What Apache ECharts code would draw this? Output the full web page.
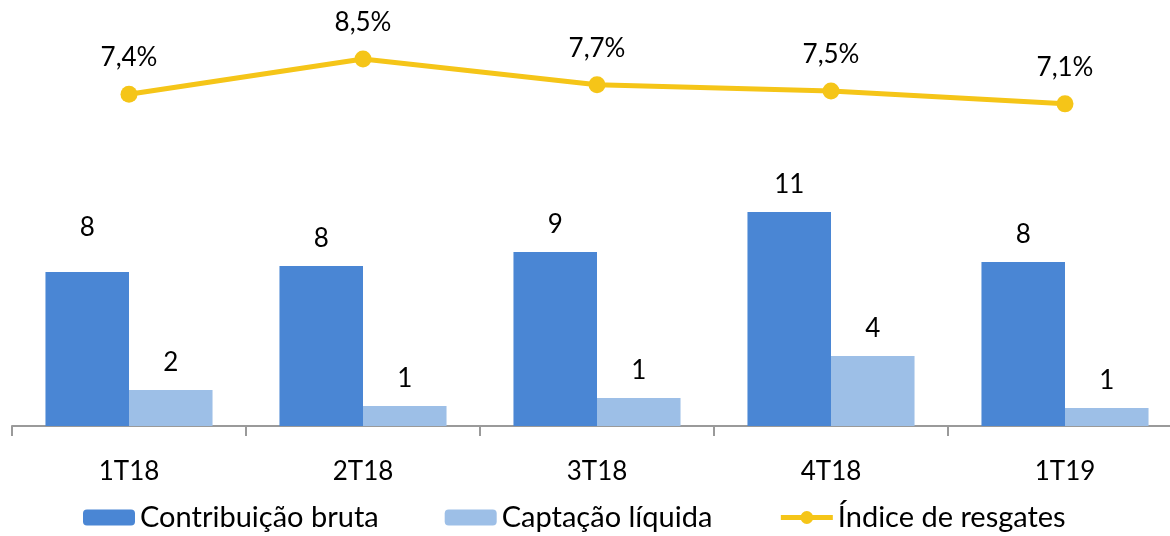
<!DOCTYPE html>
<html><head><meta charset="utf-8">
<script src="https://cdn.jsdelivr.net/npm/echarts@6/dist/echarts.min.js"></script>
<style>html,body{margin:0;padding:0;background:#fff;overflow:hidden}#c{width:1170px;height:536px}</style>
</head><body><div id="c"></div>
<script>
const categories = ['1T18', '2T18', '3T18', '4T18', '1T19'];
const contribuicaoBruta = [7.92, 8.23, 8.95, 11.0, 8.43];
const captacaoLiquida = [1.85, 1.03, 1.44, 3.6, 0.93];
const indiceResgates = [7.4, 8.5, 7.7, 7.5, 7.1];
const seriesNames = ['Contribuição bruta', 'Captação líquida', 'Índice de resgates'];

const FONT = 'Lato';
const chart = echarts.init(document.getElementById('c'));
const barLabel = {show: true, position: 'top', distance: 14, color: '#000', fontFamily: FONT, fontSize: 26,
  formatter: p => String(Math.round(p.value))};
chart.setOption({
  animation: false,
  textStyle: {fontFamily: FONT},
  grid: {left: 12, right: -12, top: 17.5, bottom: 110, containLabel: false, outerBoundsMode: 'none'},
  legend: {
    data: [
      {name: seriesNames[0]},
      {name: seriesNames[1]},
      {name: seriesNames[2], itemStyle: {color: '#F5C518'}, lineStyle: {width: 5, color: '#F5C518'}}
    ],
    left: 83, top: 503, padding: 0, itemWidth: 52, itemHeight: 16, itemGap: 66,
    textStyle: {fontFamily: FONT, fontSize: 29, color: '#000'}
  },
  xAxis: {
    type: 'category', data: categories,
    axisLine: {lineStyle: {color: '#9a9a9a', width: 2}},
    axisTick: {show: true, length: 10, lineStyle: {color: '#9a9a9a', width: 2}},
    axisLabel: {color: '#000', fontFamily: FONT, fontSize: 26, margin: 33}
  },
  yAxis: [
    {type: 'value', min: 0, max: 21, show: false, splitLine: {show: false}},
    {type: 'value', min: -2.97, max: 9.8, show: false, splitLine: {show: false}}
  ],
  series: [
    {name: seriesNames[0], type: 'bar', barGap: '0%', barCategoryGap: '28.6%',
     itemStyle: {color: '#4A86D4'},
     data: contribuicaoBruta.map((v, i) => i === 0 ? {value: v, label: {distance: 31}} : v),
     label: barLabel},
    {name: seriesNames[1], type: 'bar', itemStyle: {color: '#9DBFE7'},
     data: captacaoLiquida, label: barLabel},
    {name: seriesNames[2], type: 'line', yAxisIndex: 1, data: indiceResgates,
     symbol: 'circle', symbolSize: 17,
     lineStyle: {color: '#F5C518', width: 5}, itemStyle: {color: '#F5C518'},
     label: {show: true, position: 'top', distance: 15, color: '#000', fontFamily: FONT, fontSize: 26,
       formatter: p => p.value.toFixed(1).replace('.', ',') + '%'}}
  ]
});
</script></body></html>
